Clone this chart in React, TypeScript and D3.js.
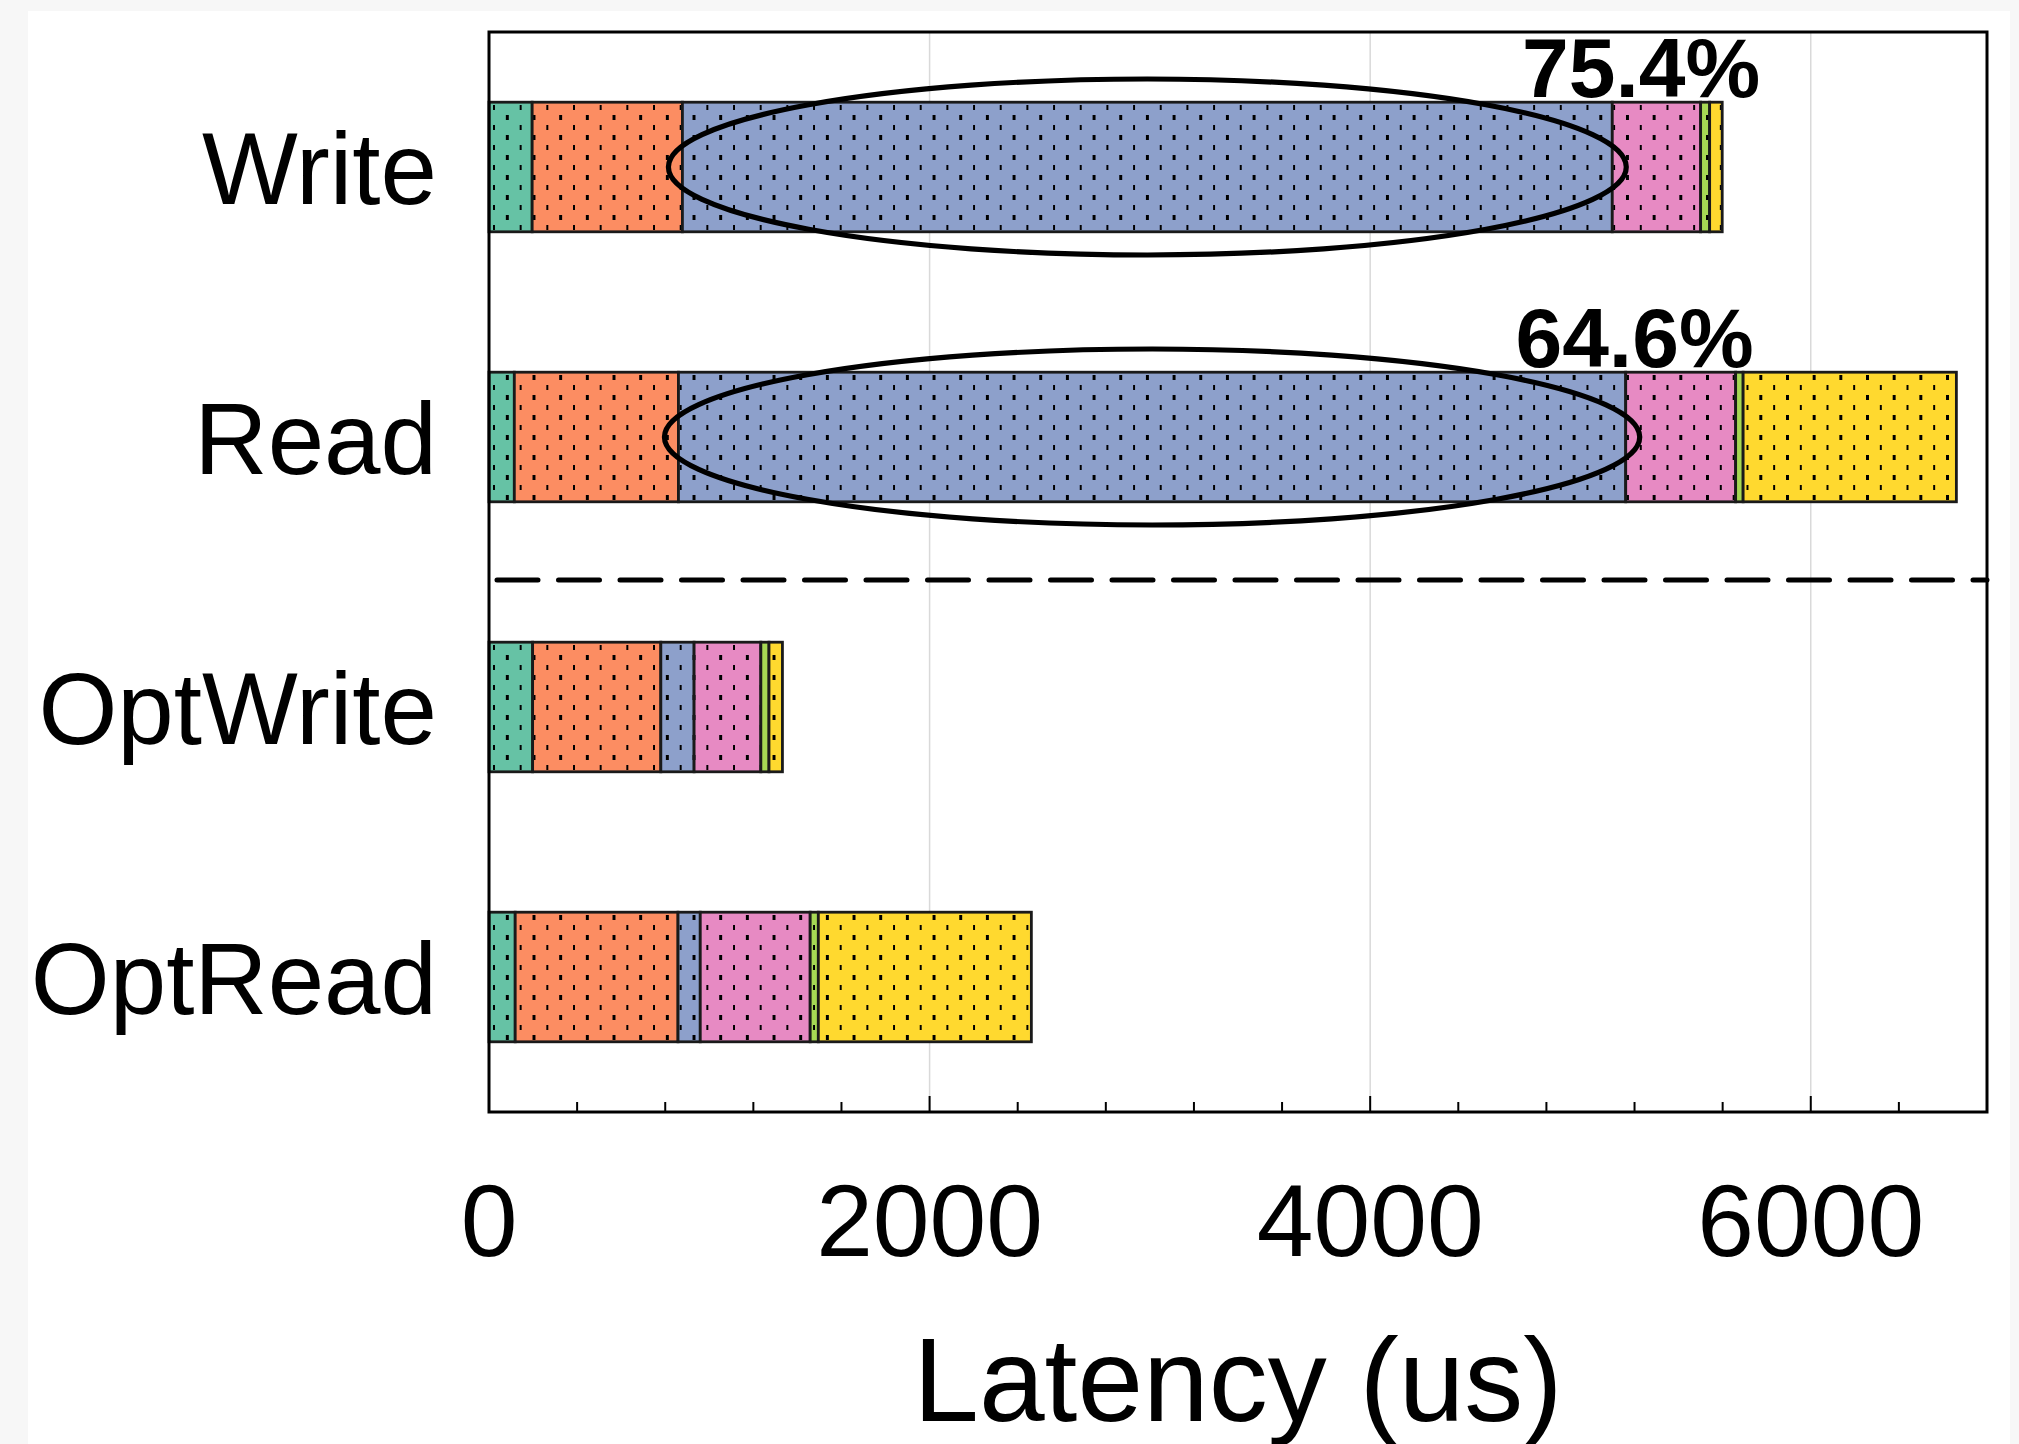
import React from "react";
import * as d3 from "d3";

// latency breakdown (us), one array per component, in stacking order
const categories = ["Write", "Read", "OptWrite", "OptRead"];
const compKeys = ["c1", "c2", "c3", "c4", "c5", "c6"];
const c1 = [196, 115, 198, 119];
const c2 = [682, 745, 582, 739];
const c3 = [4221, 4300, 151, 101];
const c4 = [401, 499, 303, 499];
const c5 = [41, 34, 37, 37];
const c6 = [57, 968, 61, 967];
const compColors = ["#66c2a5", "#fc8d62", "#8da0cb", "#e78ac3", "#a6d854", "#ffd92f"];

const xTicks = [0, 2000, 4000, 6000];
const highlighted = ["Write", "Read"]; // blue part circled
const pctLabels = ["75.4%", "64.6%"];
const pctAt = [5230, 5200];

const W = 2019;
const H = 1444;
const font = "'Liberation Sans', Arial, Helvetica, sans-serif";

export default function App() {
  const left = 489, right = 1987, top = 32, bottom = 1112;

  const x = d3.scaleLinear().domain([0, 6800]).range([left, right]);
  const y = d3.scaleBand().domain(categories).range([top, bottom]).paddingInner(0.52).paddingOuter(0.26);
  const bw = y.bandwidth();

  const rows = categories.map((cat, i) => ({
    cat,
    c1: c1[i], c2: c2[i], c3: c3[i], c4: c4[i], c5: c5[i], c6: c6[i],
  }));
  const series = d3.stack().keys(compKeys)(rows as any);

  const minor = d3.range(0, 6801, 400).filter((v) => v % 2000 !== 0);

  const readBottom = (y("Read") as number) + bw;
  const sepY = (readBottom + (y("OptWrite") as number)) / 2 + 8;

  return (
    <svg width={W} height={H} style={{ position: "absolute", left: 0, top: 0, display: "block" }}>
      <defs>
        <pattern id="dots" patternUnits="userSpaceOnUse" x={493} y={105} width={26.67} height={20}>
          <rect x={0} y={0} width={2.4} height={5} fill="#000" shapeRendering="crispEdges" />
          <rect x={13.33} y={10} width={2.4} height={5} fill="#000" shapeRendering="crispEdges" />
        </pattern>
      </defs>
      <rect x={0} y={0} width={W} height={H} fill="#f7f7f7" />
      <rect x={28} y={11} width={2010 - 28} height={H - 11} fill="#fff" />

      {/* grid */}
      {xTicks.slice(1).map((t) => (
        <line key={t} x1={x(t)} x2={x(t)} y1={top} y2={bottom} stroke="#d9d9d9" strokeWidth={1.5} />
      ))}

      {/* bars */}
      {series.map((s, si) => (
        <g key={s.key}>
          {s.map((d, i) => {
            const cat = categories[i];
            const x0 = x(d[0]);
            const w = x(d[1]) - x(d[0]);
            return (
              <g key={cat}>
                <rect x={x0} y={y(cat)} width={w} height={bw} fill={compColors[si]} />
                <rect x={x0} y={y(cat)} width={w} height={bw} fill="url(#dots)" stroke="#1a1a1a" strokeWidth={2.8} />
              </g>
            );
          })}
        </g>
      ))}

      {/* separator */}
      <line x1={left + 8} x2={right} y1={sepY} y2={sepY} stroke="#000" strokeWidth={5}
        strokeDasharray="41 20.5" strokeLinecap="round" />

      {/* ellipses + percentages */}
      {highlighted.map((cat, k) => {
        const i = categories.indexOf(cat);
        const blue = series[2][i];
        const cx = (x(blue[0]) + x(blue[1])) / 2;
        const rx = (x(blue[1]) - x(blue[0])) / 2 + 14;
        const cy = (y(cat) as number) + bw / 2;
        return (
          <g key={cat}>
            <ellipse cx={cx} cy={cy} rx={rx} ry={88} fill="none" stroke="#000" strokeWidth={5.2} />
            <text x={x(pctAt[k])} y={(y(cat) as number) - 5} textAnchor="middle" fontFamily={font}
              fontWeight="bold" fontSize={84} fill="#000">{pctLabels[k]}</text>
          </g>
        );
      })}

      {/* frame */}
      <rect x={left} y={top} width={right - left} height={bottom - top} fill="none" stroke="#000" strokeWidth={3} />

      {/* ticks */}
      {xTicks.map((t) => (
        <line key={"M" + t} x1={x(t)} x2={x(t)} y1={bottom} y2={bottom - 16} stroke="#000" strokeWidth={2} />
      ))}
      {minor.map((t) => (
        <line key={"m" + t} x1={x(t)} x2={x(t)} y1={bottom} y2={bottom - 10} stroke="#000" strokeWidth={2} />
      ))}
      {xTicks.map((t) => (
        <text key={"l" + t} x={x(t)} y={1256} textAnchor="middle" fontFamily={font} fontSize={102} fill="#000">
          {t}
        </text>
      ))}

      {/* category labels */}
      {categories.map((cat) => (
        <text key={cat} x={437} y={(y(cat) as number) + bw / 2 + 37} textAnchor="end" fontFamily={font}
          fontSize={101.5} fill="#000">{cat}</text>
      ))}

      <text x={(left + right) / 2} y={1421} textAnchor="middle" fontFamily={font} fontSize={118} fill="#000">
        Latency (us)
      </text>
    </svg>
  );
}
